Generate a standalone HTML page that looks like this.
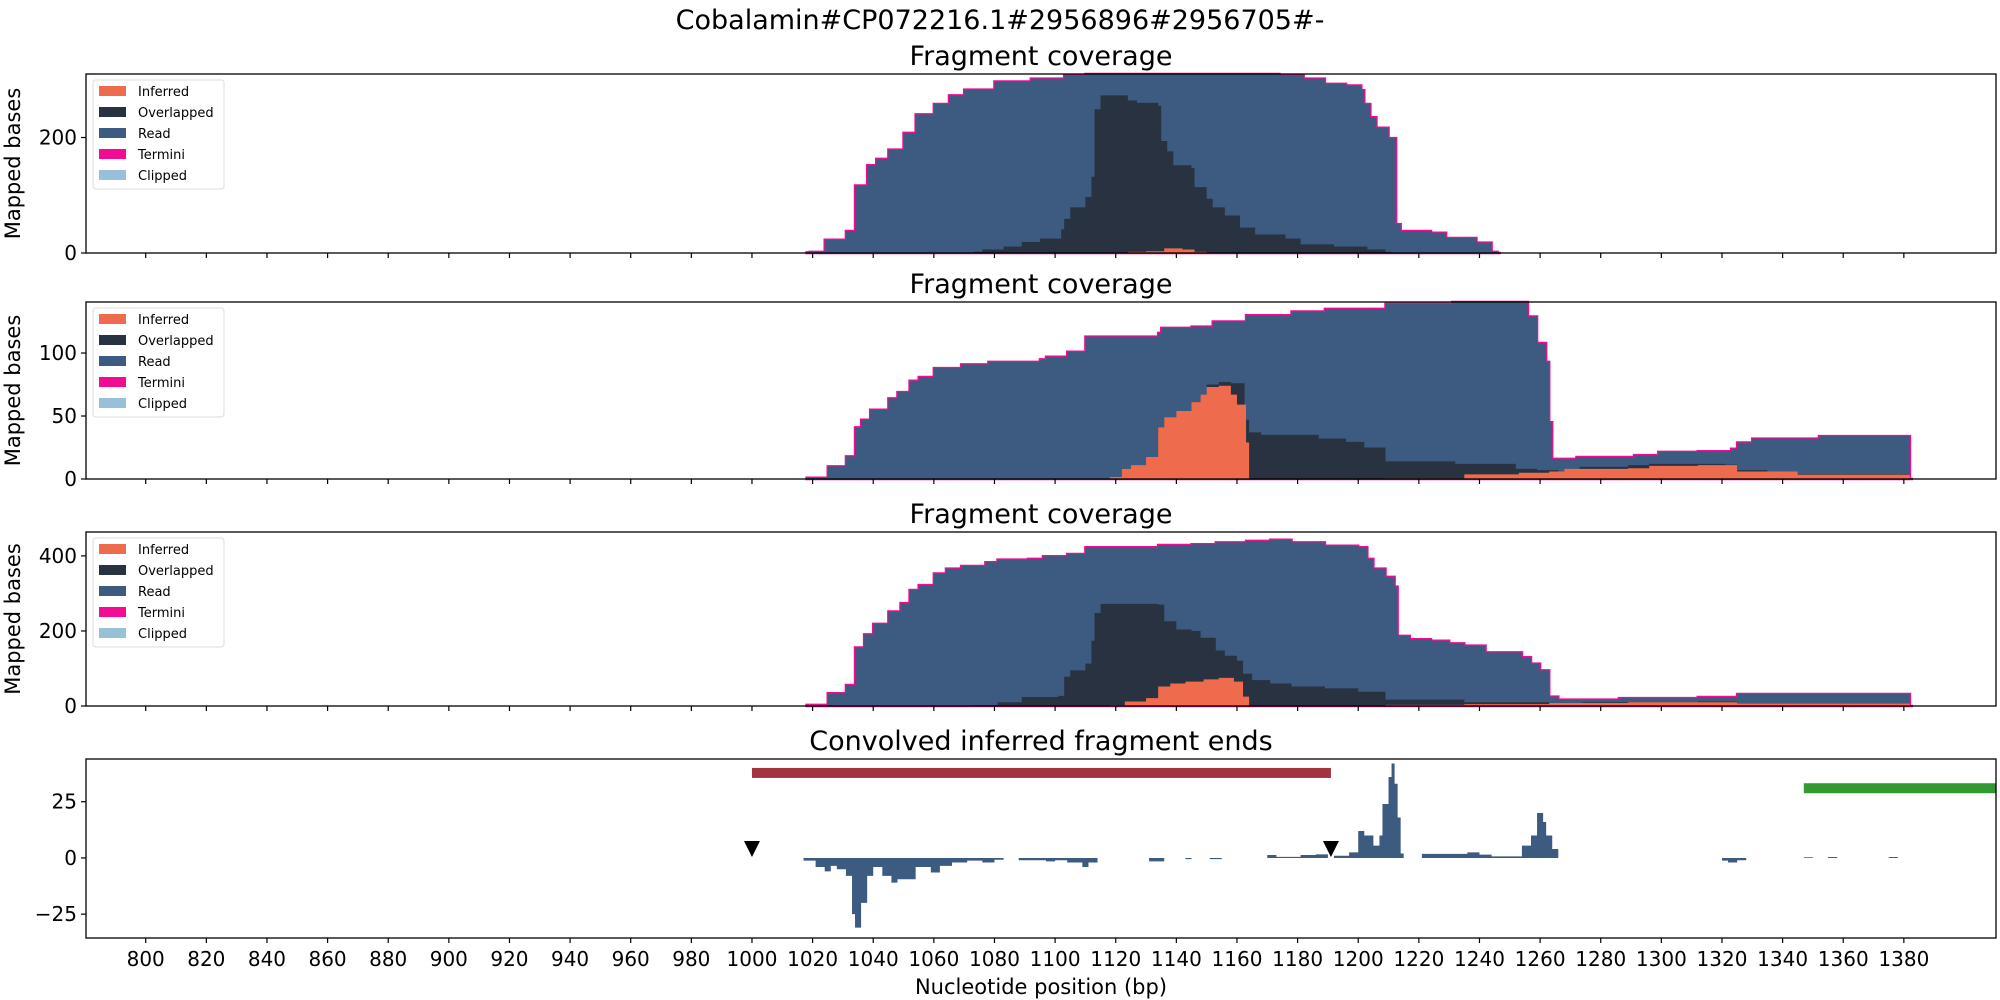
<!DOCTYPE html>
<html><head><meta charset="utf-8"><style>
html,body{margin:0;padding:0;background:#fff;}
svg{display:block;font-family:"DejaVu Sans","Liberation Sans",sans-serif;}
</style></head><body>
<svg id="chart" width="2000" height="1000" viewBox="0 0 2000 1000" xmlns="http://www.w3.org/2000/svg">
<text x="1000" y="29" font-size="27" text-anchor="middle">Cobalamin#CP072216.1#2956896#2956705#-</text>
</svg>
<script>
// ---------- data ----------
const xTicks = [800,820,840,860,880,900,920,940,960,980,1000,1020,1040,1060,1080,1100,1120,1140,1160,1180,1200,1220,1240,1260,1280,1300,1320,1340,1360,1380];

// Panel 1
const p1ReadPos = [1018,1019,1024,1031,1034,1038,1041,1045,1050,1054,1060,1065,1070,1080,1092,1103,1110,1174,1182,1189,1196,1201,1202,1204,1206,1210,1212.5,1214,1224,1229,1239,1244,1246];
const p1ReadVal = [1,2,23,38,117,152,163,179,208,240,258,273,283,297,302,308,312,308,302,293,290,282,258,235,217,199,50,38,35,26,18,2,0];
const p1OverPos = [1073,1076,1083,1089,1095,1102,1103,1105,1110,1112,1113,1115,1124,1127,1134,1135,1137,1139,1145,1146,1150,1152,1156,1161,1166,1176,1181,1192,1203,1209,1211];
const p1OverVal = [2,6,11,19,25,41,59,79,97,132,249,273,264,260,255,194,176,152,147,114,94,79,65,44,32,25,15,11,6,2,0];
const p1InfPos = [1124,1130,1136,1142,1146,1150];
const p1InfVal = [2,3,8,6,2,0];

// Panel 2
const p2ReadPos = [1018,1025,1031,1034,1036,1039,1045,1048,1052,1055,1060,1069,1078,1095,1097,1104,1110,1134,1135,1145,1152,1163,1178,1189,1209,1231,1256,1259,1262,1263,1264,1272,1291,1299,1312,1323,1325,1330,1352,1382];
const p2ReadVal = [1,10,18,41,47,55,64,69,78,81,88,91,93,95,97,101,113,116,120,121,125,130,133,135,139,141,129,108,93,45,16,17.5,19,21.5,22,24,29,32,34,0];
const p2OverPos = [1118,1122,1125,1130,1134,1136,1140,1145,1148,1150,1154,1158,1160,1162.5,1164,1168,1187,1196,1202,1209,1232,1252,1259,1266,1273,1289,1296,1321,1325,1335,1345,1382];
const p2OverVal = [1.6,8,11,17.5,41,49,54,61,67,75,77,76,76,47,37,35,32,29.5,25,14,12,8,7,6,9.6,11,12,11.4,7,6,4,0];
const p2InfPos = [1118,1122,1125,1130,1134,1136,1140,1145,1148,1150,1154,1158,1160,1163,1164,1209,1235,1253,1263,1268,1289,1296,1312,1325,1345,1382];
const p2InfVal = [1.6,8,11,17.5,41,49,54,61,67,73,74,67,59,29,0,0.5,3.7,5,6,8,8.5,10.4,11,6,3.5,0];

// Panel 3
const p3ReadPos = [1018,1025,1031,1034,1037,1040,1045,1049,1052,1055,1060,1064,1069,1077,1081,1091,1096,1104,1110,1134,1145,1153,1163,1171,1178,1189,1200,1203,1205,1209,1212,1213,1217,1224,1230,1235,1242,1254,1257,1260,1263,1266,1286,1312,1325,1382];
const p3ReadVal = [3,34,56,156,191,219,252,274,309,322,353,366,373,383,390,392,399,405,423,429,431,436,440,443,436,427,423,392,366,344,318,187,178,174,167,161,143,130,113,95,25,17,21,24,32,0];
const p3OverPos = [1073,1081,1089,1101,1103,1105,1110,1112,1113,1115,1134,1136,1140,1145,1148,1153,1156,1160,1162,1165,1171,1178,1189,1200,1209,1235,1263,1274,1312,1325,1382];
const p3OverVal = [2,10,24,27,78,95,113,174,248,272,270,226,204,200,182,148,134,121,86,69,60,52,47,38,17,10,6,10,12,8,0];
const p3InfPos = [1118,1123,1130,1134,1138,1143,1149,1154,1159,1162,1164,1209,1235,1263,1289,1312,1325,1382];
const p3InfVal = [2,12,21,52,60,65,71,75,65,25,0,3,5,8,10,10,7,0];

// Panel 4
const convPos = [1017,1021,1024,1026,1028,1031,1033,1034,1036,1038,1040,1043,1046,1048,1051,1054,1059,1062,1066,1071,1076,1080,1083,1088,1097,1100,1104,1109,1111,1114,1131,1136,1143,1145,1151,1155,1170,1173,1181,1186,1190,1192,1197,1200,1202,1205,1207,1208,1210,1211,1212,1213,1214,1215,1221,1236,1240,1244,1254,1257,1259,1261,1262,1264,1266,1320,1322,1325,1328,1347,1350,1355,1358,1375,1378];
const convVal = [-1.2,-4,-6,-3.5,-5,-8,-25,-31,-20,-8,-4,-8,-11,-9.5,-9.5,-4,-6.5,-3.5,-2,-1.2,-2,-0.8,0,-1,-1.5,-1,-2,-4,-2,0,-1.5,0,-0.5,0,-0.5,0,1.3,0.5,1.3,1.6,0,1,2.5,12,10,5.5,10,24,36,42,33,18,2,0,1.8,2.5,1.5,0.7,5.5,10,20,16,10,4,0,-1.2,-2,-1,0,0.3,0,0.4,0,0.4,0];
const regionBars = [[1000,1191,37.8,'#a3333f'],[1347,1412,31,'#339933']];
const markerPos = [1000,1191];

// ---------- layout ----------
const NS = 'http://www.w3.org/2000/svg';
const svg = document.getElementById('chart');
const X0 = 86, X1 = 1996, XMIN = 780.3, XMAX = 1410.4;
const xs = v => X0 + (v - XMIN) / (XMAX - XMIN) * (X1 - X0);
const C = {inf:'#ee6c4d', over:'#293241', read:'#3d5a80', term:'#f20c93', clip:'#98c1d9'};

function el(tag, attrs, parent) {
  const e = document.createElementNS(NS, tag);
  for (const k in attrs) e.setAttribute(k, attrs[k]);
  (parent || svg).appendChild(e);
  return e;
}
function stepPath(pos, val, ys, base) {
  let d = 'M' + xs(pos[0]) + ',' + base;
  for (let i = 0; i < pos.length; i++) {
    const xa = xs(pos[i]), xb = xs(i + 1 < pos.length ? pos[i + 1] : pos[i] + 1);
    d += 'L' + xa + ',' + ys(val[i]) + 'L' + xb + ',' + ys(val[i]);
  }
  d += 'L' + xs(pos[pos.length - 1] + 1) + ',' + base + 'Z';
  return d;
}

function panel(top, bot, ymin, ymax, yticks, title, name) {
  const g = el('g', {});
  
  
  const ys = v => bot - (v - ymin) / (ymax - ymin) * (bot - top);
  const t = el('text', {x: (X0 + X1) / 2, y: top - 9, 'font-size': 27, 'text-anchor': 'middle'}, g);
  t.textContent = title;
  
  
  return {g, ys, top, bot};
}
function frame(P, yticks, withXLabels) {
  const {g, ys, top, bot} = P;
  const r = el('rect', {x: X0, y: top, width: X1 - X0, height: bot - top, fill: 'none', stroke: '#000', 'stroke-width': 1.3}, g);
  
  
  yticks.forEach(v => {
    const y = ys(v);
    el('line', {x1: X0 - 5, x2: X0, y1: y, y2: y, stroke: '#000', 'stroke-width': 1.2}, g);
    const tt = el('text', {x: X0 - 9, y: y + 7, 'font-size': 20, 'text-anchor': 'end'}, g);
    tt.textContent = v < 0 ? '\u2212' + (-v) : String(v);
    
    
  });
  xTicks.forEach(v => {
    const x = xs(v);
    el('line', {x1: x, x2: x, y1: bot, y2: bot + 5, stroke: '#000', 'stroke-width': 1.2}, g);
    if (withXLabels) {
      const tt = el('text', {x: x, y: bot + 28, 'font-size': 20, 'text-anchor': 'middle'}, g);
      tt.textContent = v;
      
      
    }
  });
}
function ylabel(P) {
  const cy = (P.top + P.bot) / 2;
  const t = el('text', {x: 0, y: 0, 'font-size': 21, 'text-anchor': 'middle', transform: 'translate(20,' + cy + ') rotate(-90)'}, P.g);
  t.textContent = 'Mapped bases';
  
  
}
function legend(P) {
  const lg = el('g', {}, P.g);
  
  
  el('rect', {x: 93, y: P.top + 6, width: 131, height: 109, rx: 3, fill: '#fff', stroke: '#ddd', 'stroke-width': 1}, lg);
  [['Inferred', C.inf], ['Overlapped', C.over], ['Read', C.read], ['Termini', C.term], ['Clipped', C.clip]].forEach((it, i) => {
    const cy = P.top + 17 + i * 21;
    const e = el('g', {}, lg);
    
    
    el('rect', {x: 99, y: cy - 5, width: 27, height: 10, fill: it[1]}, e);
    const tt = el('text', {x: 138, y: cy + 5, 'font-size': 13}, e);
    tt.textContent = it[0];
  });
}
function coverage(P, rp, rv, op, ov, ip, iv, ymax) {
  const clamp = a => a.map(v => Math.min(v, ymax));
  const rd = stepPath(rp, clamp(rv), P.ys, P.bot);
  const term = el('path', {d: rd, fill: C.term, stroke: C.term, 'stroke-width': 2.5}, P.g);
  
  
  const rdp = el('path', {d: rd, fill: C.read}, P.g);
  
  
  const o = el('path', {d: stepPath(op, clamp(ov), P.ys, P.bot), fill: C.over}, P.g);
  
  
  const inf = el('path', {d: stepPath(ip, iv, P.ys, P.bot), fill: C.inf}, P.g);
  
  
}

// Panel 1
const P1 = panel(74, 253, 0, 310, [0, 200], 'Fragment coverage', 'panel-1');
coverage(P1, p1ReadPos, p1ReadVal, p1OverPos, p1OverVal, p1InfPos, p1InfVal, 310);
frame(P1, [0, 200], false); legend(P1); ylabel(P1);

// Panel 2
const P2 = panel(302, 479, 0, 140.5, [0, 50, 100], 'Fragment coverage', 'panel-2');
coverage(P2, p2ReadPos, p2ReadVal, p2OverPos, p2OverVal, p2InfPos, p2InfVal, 140.5);
frame(P2, [0, 50, 100], false); legend(P2); ylabel(P2);

// Panel 3
const P3 = panel(532, 706, 0, 463.7, [0, 200, 400], 'Fragment coverage', 'panel-3');
coverage(P3, p3ReadPos, p3ReadVal, p3OverPos, p3OverVal, p3InfPos, p3InfVal, 463.7);
frame(P3, [0, 200, 400], false); legend(P3); ylabel(P3);

// Panel 4
const P4 = panel(759, 938, -35.6, 44, [-25, 0, 25], 'Convolved inferred fragment ends', 'panel-4');
const cp = el('path', {d: stepPath(convPos, convVal, P4.ys, P4.ys(0)), fill: C.read}, P4.g);


regionBars.forEach(b => {
  const r = el('rect', {x: xs(b[0]), y: P4.ys(b[2]) - 5, width: Math.min(xs(b[1]), X1) - xs(b[0]), height: 10, fill: b[3]}, P4.g);
  
  
});
markerPos.forEach(p => {
  const x = xs(p), y = P4.ys(0) - 9;
  const m = el('path', {d: 'M' + (x - 8) + ',' + (y - 8) + 'L' + (x + 8) + ',' + (y - 8) + 'L' + x + ',' + (y + 8) + 'Z', fill: '#000'}, P4.g);
  
  
});
frame(P4, [-25, 0, 25], true);
const xl = el('text', {x: (X0 + X1) / 2, y: 994, 'font-size': 21, 'text-anchor': 'middle'});
xl.textContent = 'Nucleotide position (bp)';


</script>
</body></html>
